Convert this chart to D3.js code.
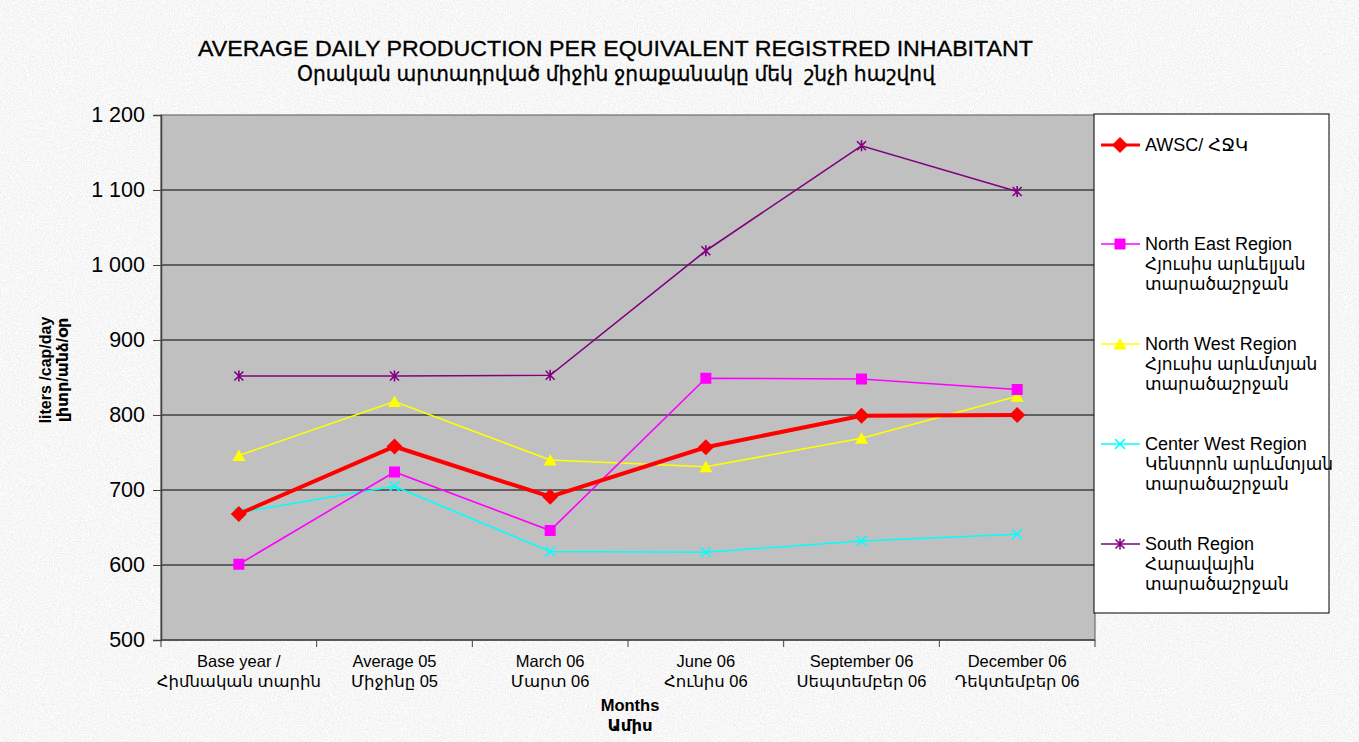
<!DOCTYPE html>
<html>
<head>
<meta charset="utf-8">
<script src="https://cdn.jsdelivr.net/npm/d3@7"></script>
<style>
  html, body { margin: 0; padding: 0; background: #e6e6e6; }
  svg { display: block; font-family: "Liberation Sans", Arial, "DejaVu Sans", sans-serif; }
</style>
</head>
<body>
<div id="chart"></div>
<script>
// categories (two text lines each)
const categories = ["Base year", "Average 05", "March 06", "June 06", "September 06", "December 06"];
const categoryLines = [
  ["Base year /", "Հիմնական տարին"],
  ["Average 05", "Միջինը 05"],
  ["March 06", "Մարտ 06"],
  ["June 06", "Հունիս 06"],
  ["September 06", "Սեպտեմբեր 06"],
  ["December 06", "Դեկտեմբեր 06"]
];

// series values, liters/cap/day
const awsc = [668, 758, 691, 757, 799, 800];
const northEast = [601, 724, 646, 849, 848, 834];
const northWest = [746, 818, 740, 731, 769, 825];
const centerWest = [670, 705, 618, 617, 632, 641];
const south = [852, 852, 853, 1019, 1159, 1098];

const yTicks = [500, 600, 700, 800, 900, 1000, 1100, 1200];

const series = [
  { name: ["AWSC/ ՀՋԿ"], values: awsc, color: "#ff0000", marker: "diamond", width: 4 },
  { name: ["North East Region", "Հյուսիս արևելյան", "տարածաշրջան"], values: northEast, color: "#ff00ff", marker: "square", width: 1.6 },
  { name: ["North West Region", "Հյուսիս արևմտյան", "տարածաշրջան"], values: northWest, color: "#ffff00", marker: "triangle", width: 1.6 },
  { name: ["Center West Region", "Կենտրոն արևմտյան", "տարածաշրջան"], values: centerWest, color: "#00ffff", marker: "x", width: 1.6 },
  { name: ["South Region", "Հարավային", "տարածաշրջան"], values: south, color: "#800080", marker: "star", width: 1.6 }
];

const W = 1359, H = 742;
const plot = { left: 161, right: 1095, top: 115, bottom: 640 };

const svg = d3.select("#chart").append("svg").attr("width", W).attr("height", H);

// paper-like background
const defs = svg.append("defs");
const f = defs.append("filter").attr("id", "paper")
  .attr("x", 0).attr("y", 0).attr("width", "100%").attr("height", "100%");
f.append("feTurbulence").attr("type", "fractalNoise").attr("baseFrequency", 0.75)
  .attr("numOctaves", 3).attr("seed", 4).attr("result", "noise");
f.append("feColorMatrix").attr("in", "noise").attr("type", "matrix")
  .attr("values", "0.34 0 0 0 0.76  0.34 0 0 0 0.76  0.34 0 0 0 0.76  0 0 0 0 1");
svg.append("rect").attr("width", W).attr("height", H).attr("filter", "url(#paper)");

const x = d3.scaleBand().domain(categories).range([plot.left, plot.right]).padding(0);
const cx = d => x(d) + x.bandwidth() / 2;
const y = d3.scaleLinear().domain([500, 1200]).range([plot.bottom, plot.top]);
const fmt = d3.formatLocale({ decimal: ".", thousands: " ", grouping: [3], currency: ["", ""] }).format(",");

// plot area
svg.append("rect")
  .attr("x", plot.left).attr("y", plot.top)
  .attr("width", plot.right - plot.left).attr("height", plot.bottom - plot.top)
  .attr("fill", "#c0c0c0").attr("stroke", "#707070").attr("stroke-width", 1.2);

// gridlines
svg.append("g").selectAll("line").data(yTicks.slice(1, -1)).join("line")
  .attr("x1", plot.left).attr("x2", plot.right)
  .attr("y1", d => y(d)).attr("y2", d => y(d))
  .attr("stroke", "#000").attr("stroke-width", 1);

// y axis
const yAxis = svg.append("g").attr("transform", `translate(${plot.left},0)`)
  .call(d3.axisLeft(y).tickValues(yTicks).tickFormat(fmt).tickSize(8).tickPadding(8));
yAxis.select(".domain").attr("stroke", "#404040").attr("stroke-width", 1.5);
yAxis.selectAll(".tick line").attr("stroke", "#404040");
yAxis.selectAll("text").attr("font-size", 21.5).attr("fill", "#000")
  .attr("font-family", "Liberation Sans, Arial, sans-serif");

// x axis
const xAxis = svg.append("g").attr("transform", `translate(0,${plot.bottom})`);
xAxis.append("line").attr("x1", plot.left).attr("x2", plot.right)
  .attr("stroke", "#404040").attr("stroke-width", 1.5);
xAxis.selectAll("line.tk").data(categories.map(d => x(d)).concat([plot.right])).join("line")
  .attr("class", "tk").attr("x1", d => d).attr("x2", d => d).attr("y1", 0).attr("y2", 7)
  .attr("stroke", "#404040");
const xl = xAxis.selectAll("text.lab").data(categories).join("text")
  .attr("class", "lab").attr("text-anchor", "middle").attr("font-size", 16.5)
  .attr("font-family", "Liberation Sans, Arial, DejaVu Sans, sans-serif");
xl.selectAll("tspan").data((d, i) => categoryLines[i]).join("tspan")
  .attr("x", function () { return cx(d3.select(this.parentNode).datum()); })
  .attr("y", (d, i) => 27 + i * 20)
  .text(d => d);

// axis titles
svg.append("text").attr("x", 630).attr("y", 711).attr("text-anchor", "middle")
  .attr("font-size", 16.5).attr("font-weight", "bold").text("Months");
svg.append("text").attr("x", 630).attr("y", 731).attr("text-anchor", "middle")
  .attr("font-size", 16.5).attr("font-weight", "bold").text("Ամիս");
const yt = svg.append("text").attr("transform", "translate(0,370) rotate(-90)")
  .attr("text-anchor", "middle").attr("font-size", 16).attr("font-weight", "bold");
yt.append("tspan").attr("x", 0).attr("y", 51).text("liters /cap/day");
yt.append("tspan").attr("x", 0).attr("y", 68).text("լիտր/անձ/օր");

// title
svg.append("text").attr("x", 615.5).attr("y", 56).attr("text-anchor", "middle")
  .attr("font-size", 22).attr("textLength", 835).attr("lengthAdjust", "spacingAndGlyphs")
  .attr("stroke", "#000").attr("stroke-width", 0.3)
  .text("AVERAGE DAILY PRODUCTION PER EQUIVALENT REGISTRED INHABITANT");
svg.append("text").attr("x", 616).attr("y", 81).attr("text-anchor", "middle")
  .attr("font-size", 21).attr("textLength", 638).attr("lengthAdjust", "spacingAndGlyphs")
  .attr("stroke", "#000").attr("stroke-width", 0.3).style("white-space", "pre")
  .text("Օրական արտադրված միջին ջրաքանակը մեկ  շնչի հաշվով");

// markers
function drawMarker(g, type, color) {
  if (type === "diamond") {
    g.append("path").attr("d", "M0,-8L8,0L0,8L-8,0Z").attr("fill", color);
  } else if (type === "square") {
    g.append("rect").attr("x", -5.5).attr("y", -5.5).attr("width", 11).attr("height", 11).attr("fill", color);
  } else if (type === "triangle") {
    g.append("path").attr("d", "M0,-6L6.5,5.5L-6.5,5.5Z").attr("fill", color);
  } else if (type === "x") {
    g.append("path").attr("d", "M-5,-5L5,5M-5,5L5,-5").attr("stroke", color).attr("stroke-width", 1.6);
  } else {
    g.append("path").attr("d", "M-4.5,-4.5L4.5,4.5M-4.5,4.5L4.5,-4.5M0,-5.5V5.5")
      .attr("stroke", color).attr("stroke-width", 1.6);
  }
}

const line = d3.line().x((d, i) => cx(categories[i])).y(d => y(d));
// draw order: south, centerWest, northWest, northEast, awsc (awsc on top)
const drawOrder = [series[4], series[3], series[2], series[1], series[0]];
drawOrder.forEach(s => {
  svg.append("path").datum(s.values).attr("d", line)
    .attr("fill", "none").attr("stroke", s.color).attr("stroke-width", s.width);
});
drawOrder.forEach(s => {
  s.values.forEach((v, i) => {
    const g = svg.append("g").attr("transform", `translate(${cx(categories[i])},${y(v)})`);
    drawMarker(g, s.marker, s.color);
  });
});

// legend
const lg = svg.append("g").attr("transform", "translate(1094,114)");
lg.append("rect").attr("width", 235).attr("height", 499).attr("fill", "#fff")
  .attr("stroke", "#000").attr("stroke-width", 1);
const entryY = [31, 130, 230, 330, 430];
series.forEach((s, k) => {
  const e = lg.append("g").attr("transform", `translate(0,${entryY[k]})`);
  e.append("line").attr("x1", 7).attr("x2", 46).attr("y1", 0).attr("y2", 0)
    .attr("stroke", s.color).attr("stroke-width", s.width === 4 ? 3 : 1.6);
  const m = e.append("g").attr("transform", "translate(26,0)");
  drawMarker(m, s.marker, s.color);
  e.append("text").attr("x", 51).attr("font-size", 18).attr("fill", "#000")
    .selectAll("tspan").data(s.name).join("tspan")
    .attr("x", 51).attr("y", (d, i) => 6 + i * 20)
    .attr("font-size", (d, i) => i === 0 ? 18 : 17)
    .text(d => d);
});
</script>
</body>
</html>
